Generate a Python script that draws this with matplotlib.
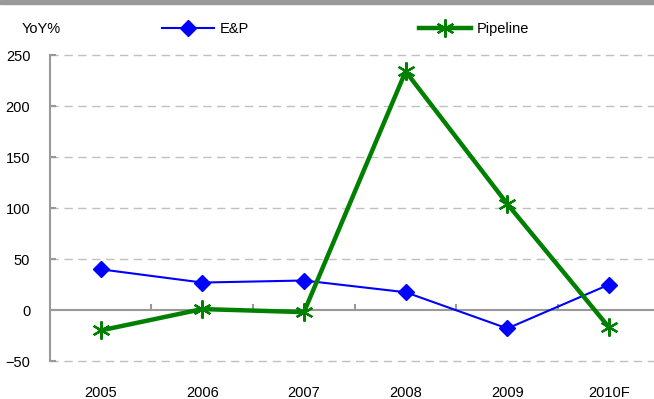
import matplotlib.pyplot as plt
import matplotlib.patches as patches

years = ["2005", "2006", "2007", "2008", "2009", "2010F"]
ep_yoy = [40, 27, 29, 17.5, -18, 25]
pipeline_yoy = [-20, 1, -2, 234, 104, -17]

plt.rcParams['font.family'] = ['Liberation Sans Narrow', 'Liberation Sans', 'DejaVu Sans']
plt.rcParams['font.size'] = 10.5

fig = plt.figure(figsize=(6.54, 3.99), dpi=100)
ax = fig.add_axes([0.076, 0.095, 0.933, 0.767])

# top banner
fig.patches.append(patches.Rectangle((0, 0.99), 1, 0.01, transform=fig.transFigure,
                                     color="#999999", zorder=0))

x = list(range(len(years)))
ax.plot(x, ep_yoy, color="#0000FF", lw=1.5, marker="D", ms=8, label="E&P", zorder=3)
ax.plot(x, pipeline_yoy, color="#008000", lw=3.2, marker=(6, 2, 0), ms=13, mew=1.6,
        label="Pipeline", zorder=4)

ax.set_ylim(-50, 250)
ax.set_xlim(-0.5, 5.5)
ax.set_yticks(range(-50, 251, 50))
for v in [-50, 50, 100, 150, 200, 250]:
    ax.axhline(v, color="#c0c0c0", lw=1, ls=(0, (6, 4)), zorder=1, clip_on=False)

# zero line with category separators
ax.axhline(0, color="#999999", lw=1.5, zorder=2)
for b in [0.5, 1.5, 2.5, 3.5, 4.5]:
    ax.plot([b, b], [0, 5], color="#999999", lw=1.5, zorder=2)

for s in ["top", "right", "bottom"]:
    ax.spines[s].set_visible(False)
ax.spines["left"].set_color("#999999")
ax.spines["left"].set_linewidth(1.5)
ax.tick_params(axis="y", direction="in", length=4, color="#999999", width=1.5, pad=14)
ax.tick_params(axis="x", length=0, pad=18)
ax.set_xticks(x)
ax.set_xticklabels(years)

fig.text(0.033, 0.927, "YoY%", fontsize=10.5, va="center")

ax.legend(loc="center", bbox_to_anchor=(0.485, 1.085), ncol=2, frameon=False,
          handlelength=3.6, columnspacing=11.6, handletextpad=0.4, fontsize=10.5)

fig.savefig("out.png", dpi=100)
